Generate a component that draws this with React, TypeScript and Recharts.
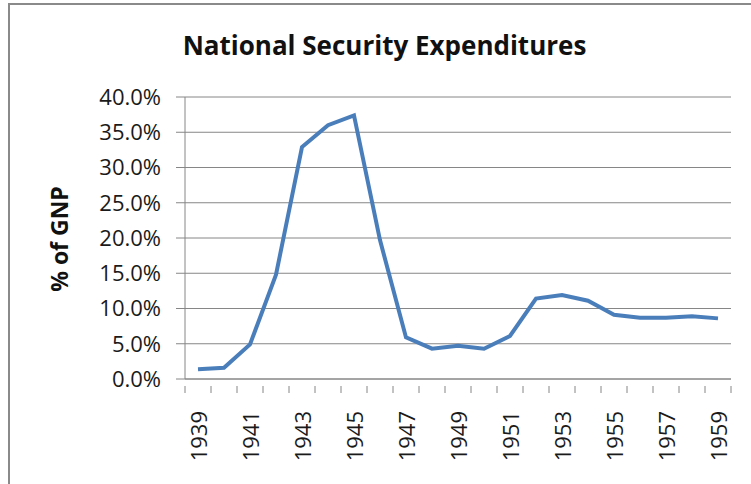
import React from 'react';
import { LineChart, Line, XAxis, YAxis, CartesianGrid } from 'recharts';

// Years on the category axis
const years = [
  '1939', '1940', '1941', '1942', '1943', '1944', '1945', '1946', '1947', '1948', '1949',
  '1950', '1951', '1952', '1953', '1954', '1955', '1956', '1957', '1958', '1959',
];

// National security spending, % of GNP
const gnpShare = [
  1.4, 1.6, 4.9, 14.8, 32.9, 36.0, 37.4, 19.7, 5.9, 4.3, 4.7,
  4.3, 6.1, 11.4, 11.9, 11.1, 9.1, 8.7, 8.7, 8.9, 8.6,
];

const yTicks = [0, 5, 10, 15, 20, 25, 30, 35, 40];

const title = 'National Security Expenditures';
const yLabel = '% of GNP';

const FONT = '"Open Sans", "DejaVu Sans", sans-serif';
const AXIS_GREY = '#868686';
const BAND = 26; // width of one category slot (plot width / 21)

const data = years.map((year, i) => ({ year, value: gnpShare[i] }));

// X tick: label on every other year, tick marks on category boundaries (Excel style)
function YearTick(props: any) {
  const { x, y, payload, index } = props;
  const last = index === years.length - 1;
  return (
    <g>
      <line x1={x - BAND / 2} y1={y - 1} x2={x - BAND / 2} y2={y + 6} stroke={AXIS_GREY} strokeWidth={1} />
      {last && (
        <line x1={x + BAND / 2} y1={y - 1} x2={x + BAND / 2} y2={y + 6} stroke={AXIS_GREY} strokeWidth={1} />
      )}
      {index % 2 === 0 && (
        <text
          x={x}
          y={y + 24}
          transform={`rotate(-90 ${x} ${y + 24})`}
          textAnchor="end"
          dominantBaseline="central"
          fontFamily={FONT}
          fontSize={22}
          fill="#1a1a1a"
        >
          {payload.value}
        </text>
      )}
    </g>
  );
}

export default function App() {
  return (
    <div style={{ position: 'absolute', left: 0, top: 0, width: 751, height: 484, background: '#fff', overflow: 'hidden' }}>
      {/* chart frame, only top and left edges are inside the picture */}
      <div
        style={{
          position: 'absolute',
          left: 8,
          top: 3,
          width: 800,
          height: 600,
          borderLeft: '2px solid #8a8a8a',
          borderTop: '2px solid #8a8a8a',
        }}
      />
      <div
        style={{
          position: 'absolute',
          left: 0,
          top: 27,
          width: 769,
          textAlign: 'center',
          fontFamily: FONT,
          fontWeight: 700,
          fontSize: 26,
          color: '#111',
        }}
      >
        {title}
      </div>
      <div
        style={{
          position: 'absolute',
          left: 59,
          top: 239,
          transform: 'translate(-50%, -50%) rotate(-90deg)',
          whiteSpace: 'nowrap',
          fontFamily: FONT,
          fontWeight: 700,
          fontSize: 23,
          color: '#111',
        }}
      >
        {yLabel}
      </div>
      <div style={{ position: 'absolute', left: 0, top: 0 }}>
        <LineChart width={751} height={484} data={data} margin={{ top: 97, right: 20, bottom: 0, left: 0 }}>
          <CartesianGrid vertical={false} stroke={AXIS_GREY} strokeWidth={1} />
          <XAxis
            dataKey="year"
            interval={0}
            height={105}
            padding={{ left: BAND / 2, right: BAND / 2 }}
            axisLine={{ stroke: AXIS_GREY }}
            tickLine={false}
            tick={<YearTick />}
          />
          <YAxis
            width={185}
            domain={[0, 40]}
            ticks={yTicks}
            interval={0}
            tickFormatter={(v: number) => `${v.toFixed(1)}%`}
            axisLine={{ stroke: AXIS_GREY }}
            tickLine={{ stroke: AXIS_GREY }}
            tickSize={9}
            tickMargin={15}
            tick={{ fontFamily: FONT, fontSize: 22, fill: '#1a1a1a' }}
          />
          <Line
            type="linear"
            dataKey="value"
            stroke="#4a7ebb"
            strokeWidth={4}
            dot={false}
            isAnimationActive={false}
          />
        </LineChart>
      </div>
    </div>
  );
}
